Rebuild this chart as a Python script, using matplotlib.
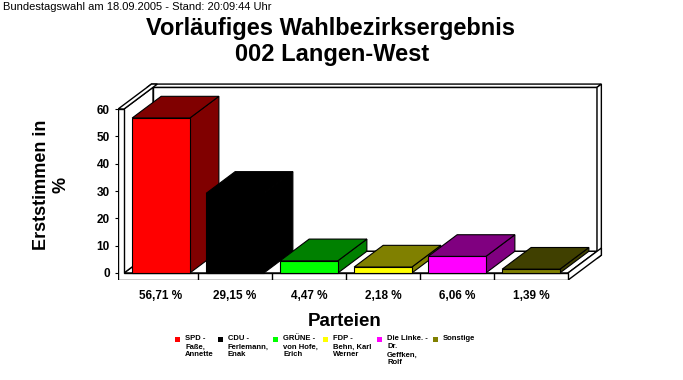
import matplotlib
matplotlib.use("Agg")
import matplotlib.pyplot as plt
from matplotlib.patches import Polygon, Rectangle

plt.rcParams["font.family"] = ["Liberation Sans", "DejaVu Sans"]

# data
parties = [
    "SPD -\nFaße,\nAnnette",
    "CDU -\nFerlemann,\nEnak",
    "GRÜNE -\nvon Hofe,\nErich",
    "FDP -\nBehn, Karl\nWerner",
    "Die Linke. -\nDr.\nGeffken,\nRolf",
    "Sonstige",
]
values = [56.71, 29.15, 4.47, 2.18, 6.06, 1.39]
value_labels = ["56,71 %", "29,15 %", "4,47 %", "2,18 %", "6,06 %", "1,39 %"]
front_colors = ["#ff0000", "#000000", "#00ff00", "#ffff00", "#ff00ff", "#808000"]
shade_colors = ["#800000", "#000000", "#008000", "#808000", "#800080", "#404000"]
yticks = [0, 10, 20, 30, 40, 50, 60]

W, H = 683, 380
fig = plt.figure(figsize=(W / 100, H / 100), dpi=100)
fig.patch.set_facecolor("white")


def px(x, y):
    # pixel (top-left origin) -> figure fraction
    return x / W, 1 - y / H


ax = fig.add_axes([0.1729, 0.2629, 0.7129, 0.5221])
ax.set_xlim(-0.58, 6.0)
ax.set_ylim(-2.6, 70)
for s in ax.spines.values():
    s.set_visible(False)
ax.set_facecolor("none")

# 3d frame
dx, dy = 0.392, 7.94  # depth offset
t = 1.15  # wall thickness factor
x0, x1, xr = -0.58, -0.5, len(values) - 0.5
y0, ytop = -2.6, 60
ec = dict(facecolor="white", edgecolor="black", lw=1.0, zorder=1)

# back wall front face
ax.add_patch(Polygon([(x1 + dx, dy), (xr + dx, dy), (xr + dx, ytop + dy), (x1 + dx, ytop + dy)], **ec))
# back wall top
ax.add_patch(Polygon([(x0 + dx, ytop + dy), (xr + dx, ytop + dy),
                      (xr + t * dx, ytop + t * dy), (x0 + t * dx, ytop + t * dy)], **ec))
# back wall right side
ax.add_patch(Polygon([(xr + dx, y0 + dy), (xr + t * dx, y0 + t * dy),
                      (xr + t * dx, ytop + t * dy), (xr + dx, ytop + dy)], **ec))
# floor top
ax.add_patch(Polygon([(x1, 0), (xr, 0), (xr + dx, dy), (x1 + dx, dy)], **ec))
# floor right side
ax.add_patch(Polygon([(xr, y0), (xr + t * dx, y0 + t * dy), (xr + t * dx, t * dy), (xr, 0)], **ec))
# left wall inner face
ax.add_patch(Polygon([(x1, 0), (x1 + dx, dy), (x1 + dx, ytop + dy), (x1, ytop)], **ec))
# left wall top
ax.add_patch(Polygon([(x0, ytop), (x1, ytop), (x1 + t * dx, ytop + t * dy), (x0 + t * dx, ytop + t * dy)], **ec))
# front L
ax.add_patch(Polygon([(x0, y0), (xr, y0), (xr, 0), (x1, 0), (x1, ytop), (x0, ytop)], **ec))
# category ticks on floor front
ax.vlines([i + 0.5 for i in range(len(values) - 1)], y0, 0, color="black", lw=1.0, zorder=2)

# bars
bw = 0.78
for i, v in enumerate(values):
    z = 3 + i * 0.1
    l, r = i - bw / 2, i + bw / 2
    ax.add_patch(Polygon([(r, 0), (r + dx, dy), (r + dx, v + dy), (r, v)],
                         facecolor=shade_colors[i], edgecolor="black", lw=0.8, zorder=z))
    ax.add_patch(Polygon([(l, v), (r, v), (r + dx, v + dy), (l + dx, v + dy)],
                         facecolor=shade_colors[i], edgecolor="black", lw=0.8, zorder=z))
    ax.bar(i, v, width=bw, color=front_colors[i], edgecolor="black", lw=0.8, zorder=z)

ax.set_yticks(yticks)
ax.set_yticklabels([str(v) for v in yticks], fontsize=8.5, fontweight="bold")
ax.tick_params(axis="y", direction="out", length=2.5, width=0.8, pad=3.5)
ax.set_xticks(range(len(values)))
ax.set_xticklabels(value_labels, fontsize=8.5, fontweight="bold")
ax.tick_params(axis="x", length=0, pad=7)

# texts
fig.text(*px(3, 7), "Bundestagswahl am 18.09.2005 - Stand: 20:09:44 Uhr",
         fontsize=8, ha="left", va="center")
fig.text(*px(331, 28), "Vorläufiges Wahlbezirksergebnis", fontsize=17,
         fontweight="bold", ha="center", va="center")
fig.text(*px(332, 55), "002 Langen-West", fontsize=17,
         fontweight="bold", ha="center", va="center")
fig.text(*px(51, 185), "Erststimmen in\n%", fontsize=13, fontweight="bold",
         rotation=90, ha="center", va="center", multialignment="center")
fig.text(*px(345, 322), "Parteien", fontsize=13.5, fontweight="bold",
         ha="center", va="center")

# legend
marker_x = [175, 218, 273, 323, 377, 433]
for mx, name, c in zip(marker_x, parties, front_colors):
    fx, fy = px(mx, 342)
    fig.add_artist(Rectangle((fx, fy), 5 / W, 5 / H, transform=fig.transFigure,
                             facecolor=c, edgecolor="none"))
    fig.text(*px(mx + 10, 335.5), name, fontsize=5.5, fontweight="bold",
             ha="left", va="top", linespacing=1.2)

fig.savefig("out.png", dpi=100)
